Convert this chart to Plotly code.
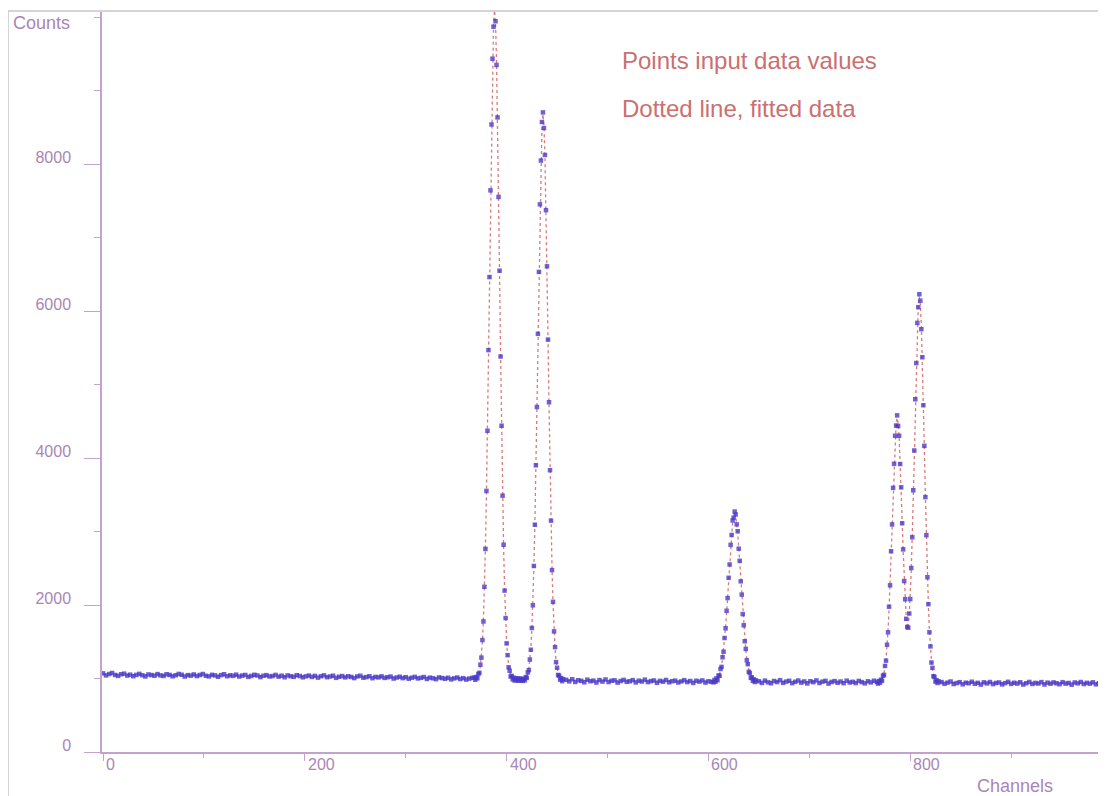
import plotly.graph_objects as go

# input data: flat parts read every 3rd channel, peaks every channel
base_a = [1070, 1042, 1061, 1075, 1048, 1036, 1058, 1066, 1040, 1052,
          1031, 1049, 1063, 1044, 1028, 1055, 1047, 1038, 1060, 1042,
          1035, 1058, 1049, 1030, 1044, 1062, 1051, 1027, 1046, 1039,
          1055, 1033, 1048, 1061, 1037, 1029, 1050, 1042, 1024, 1046,
          1058, 1031, 1043, 1036, 1052, 1027, 1040, 1048, 1022, 1035,
          1050, 1041, 1019, 1037, 1046, 1028, 1033, 1049, 1025, 1038,
          1017, 1042, 1031, 1023, 1045, 1034, 1016, 1029, 1040, 1021,
          1036, 1012, 1030, 1043, 1018, 1027, 1038, 1009, 1024, 1033,
          1015, 1030, 1021, 1006, 1028, 1037, 1011, 1019, 1031, 1004,
          1022, 1015, 1029, 1008, 1017, 1026, 999, 1013, 1024, 1005,
          1018, 997, 1011, 1022, 1001, 1009, 1020, 994, 1012, 1003,
          991, 1015, 1006, 996, 1010, 988, 1002, 1013, 993, 1005,
          986, 999, 1008]
peaks_12 = [1012, 983, 1021, 1003, 1061, 1078, 1188, 1284, 1523, 1776,
            2248, 2763, 3552, 4371, 5468, 6462, 7641, 8538, 9433, 9868,
            10130, 9942, 9347, 8634, 7552, 6548, 5381, 4439, 3487, 2820,
            2196, 1823, 1478, 1318, 1152, 1106, 1027, 1036, 987, 1011,
            972, 1004, 979, 998, 969, 1001, 977, 993, 968, 996,
            975, 1019, 1008, 1082, 1114, 1258, 1391, 1687, 1996, 2531,
            3092, 3901, 4694, 5689, 6532, 7451, 8047, 8571, 8702, 8489,
            8123, 7372, 6608, 5611, 4759, 3834, 3148, 2475, 2043, 1641,
            1427, 1223, 1146, 1048, 1039, 985, 1006, 964, 991]
base_b = [982, 961, 990, 953, 976, 968, 949, 984, 963, 971,
          945, 979, 958, 987, 952, 969, 975, 944, 966, 981,
          955, 962, 978, 947, 970, 959, 984, 951, 965, 973,
          942, 968, 957, 980, 949, 963, 971, 946, 960, 977,
          952, 966, 940, 969, 958, 974, 945, 962, 955]
peak_3 = [948, 981, 957, 1002, 976, 1041, 1037, 1129, 1158, 1289,
          1364, 1551, 1683, 1921, 2094, 2370, 2551, 2818, 2953, 3150,
          3189, 3271, 3232, 3097, 3004, 2766, 2601, 2322, 2141, 1876,
          1724, 1507, 1402, 1249, 1195, 1091, 1074, 1008, 1016, 968,
          989, 952, 975]
base_c = [962, 940, 971, 948, 935, 966, 952, 977, 941, 958,
          969, 937, 955, 972, 944, 960, 933, 963, 950, 974,
          939, 957, 968, 931, 953, 965, 942, 959, 936, 970,
          946, 955, 938, 967, 951, 934, 962, 947, 970, 953]
peaks_45 = [931, 966, 942, 983, 969, 1038, 1049, 1171, 1243, 1459,
            1628, 1977, 2268, 2731, 3096, 3594, 3921, 4303, 4441, 4580,
            4436, 4302, 3918, 3601, 3112, 2757, 2326, 2079, 1812, 1701,
            1692, 1884, 2081, 2503, 2921, 3561, 4102, 4799, 5291, 5838,
            6052, 6228, 6140, 5752, 5371, 4718, 4166, 3468, 2950, 2378,
            2011, 1629, 1437, 1218, 1145, 1031, 1021, 958, 977, 939,
            962]
base_d = [951, 928, 944, 959, 925, 938, 950, 921, 943, 935,
          956, 929, 941, 917, 948, 933, 952, 924, 939, 946,
          920, 937, 955, 927, 942, 931, 949, 918, 936, 953,
          926, 940, 932, 951, 919, 944, 929, 947, 935, 922,
          950, 931, 939, 916, 946, 934, 952, 925, 941, 930,
          948, 921, 937, 945, 928, 943, 933, 940]

# (first channel, channel step, counts)
data_segments = [(0, 3, base_a), (368, 1, peaks_12), (459, 3, base_b),
                 (605, 1, peak_3), (650, 3, base_c), (768, 1, peaks_45),
                 (831, 3, base_d)]

# fitted curve
fit_bg_a_ch = [0, 60, 120, 180, 240, 300, 366]
fit_bg_a = [1056, 1047, 1038, 1029, 1019, 1008, 996]
fit_12 = [995, 1000, 1004, 1018, 1045, 1091, 1170, 1299, 1501, 1799,
          2221, 2791, 3520, 4405, 5420, 6509, 7598, 8590, 9390, 9910,
          10090, 9910, 9390, 8590, 7598, 6509, 5420, 4405, 3520, 2791,
          2221, 1799, 1501, 1299, 1170, 1091, 1045, 1018, 1004, 995,
          990, 989, 988, 987, 986, 985, 984, 984, 983, 983,
          990, 1002, 1024, 1063, 1130, 1240, 1410, 1663, 2020, 2502,
          3119, 3868, 4726, 5648, 6569, 7410, 8086, 8526, 8678, 8526,
          8086, 7410, 6569, 5648, 4726, 3868, 3119, 2502, 2020, 1663,
          1410, 1240, 1130, 1063, 1024, 1002, 990, 982, 977]
fit_bg_b_ch = [459, 500, 550, 603]
fit_bg_b = [976, 968, 962, 960]
fit_3 = [963, 967, 973, 983, 999, 1023, 1059, 1108, 1177, 1268,
         1385, 1529, 1702, 1899, 2117, 2347, 2576, 2792, 2979, 3124,
         3216, 3248, 3216, 3124, 2979, 2792, 2576, 2347, 2117, 1899,
         1702, 1529, 1385, 1268, 1177, 1108, 1059, 1023, 999, 983,
         973, 967, 963]
fit_bg_c_ch = [650, 700, 767]
fit_bg_c = [960, 953, 947]
fit_45 = [948, 950, 956, 967, 985, 1016, 1067, 1147, 1265, 1432,
          1657, 1946, 2296, 2697, 3128, 3559, 3952, 4268, 4474, 4545,
          4475, 4270, 3956, 3567, 3144, 2728, 2354, 2050, 1836, 1727,
          1732, 1857, 2106, 2476, 2955, 3523, 4140, 4762, 5333, 5792,
          6091, 6195, 6091, 5791, 5330, 4757, 4129, 3501, 2915, 2405,
          1984, 1655, 1412, 1240, 1124, 1049, 1003, 976, 961, 953,
          949]
fit_bg_d_ch = [831, 900, 1002]
fit_bg_d = [946, 941, 936]

y_tickvals = [0, 2000, 4000, 6000, 8000]
y_ticktext = ['0', '2000', '4000', '6000', '8000']
y_minor = [1000, 3000, 5000, 7000, 9000, 10000]
x_tickvals = [0, 200, 400, 600, 800]
x_ticktext = ['0', '200', '400', '600', '800']
x_minor = [100, 300, 500, 700, 900]

AXIS = '#c3a2cb'
LABEL = '#a986b5'
RED = '#c97070'
FAM = 'Liberation Sans Narrow, Liberation Sans, Arial'
TICKFONT = dict(family=FAM, size=16, color=LABEL)

data_x, data_y = [], []
for start, step, vals in data_segments:
    data_x += [start + step * i for i in range(len(vals))]
    data_y += vals


def per_channel(start, vals):
    return [start + i for i in range(len(vals))]


fit_x = (fit_bg_a_ch + per_channel(368, fit_12) + fit_bg_b_ch + per_channel(605, fit_3)
         + fit_bg_c_ch + per_channel(768, fit_45) + fit_bg_d_ch)
fit_y = fit_bg_a + fit_12 + fit_bg_b + fit_3 + fit_bg_c + fit_45 + fit_bg_d

fig = go.Figure()
fig.add_trace(go.Scatter(x=fit_x, y=fit_y, mode='lines',
                         line=dict(color='#d97a7a', width=1.3, dash='dot'),
                         name='fitted', showlegend=False))
fig.add_trace(go.Scatter(x=data_x, y=data_y, mode='markers',
                         marker=dict(symbol='square', size=4.5, color='rgba(72,58,200,0.8)'),
                         name='input', showlegend=False))

fig.update_xaxes(range=[-1, 994], showgrid=False, zeroline=False, automargin=False,
                 showline=True, linecolor=AXIS, linewidth=1.5,
                 tickmode='array', tickvals=x_tickvals, ticks='outside', ticklen=7,
                 tickcolor=AXIS, tickwidth=1, showticklabels=False,
                 minor=dict(tickmode='array', tickvals=x_minor, ticks='outside',
                            ticklen=4, tickcolor=AXIS))
fig.update_yaxes(range=[0, 10068], showgrid=False, zeroline=False, automargin=False,
                 showline=True, linecolor=AXIS, linewidth=1.5,
                 tickmode='array', tickvals=y_tickvals, ticktext=y_ticktext,
                 ticks='outside', ticklen=16, tickcolor=AXIS, tickwidth=1.3,
                 tickfont=TICKFONT, ticklabelstandoff=10, ticklabelshift=-7,
                 minor=dict(tickmode='array', tickvals=y_minor, ticks='outside',
                            ticklen=6, tickcolor=AXIS))

# x tick labels sit just right of their tick marks
for v, t in zip(x_tickvals, x_ticktext):
    fig.add_annotation(text=t, x=v, xref='x', y=0, yref='y', xanchor='left',
                       yanchor='top', xshift=1, yshift=-2, showarrow=False,
                       font=TICKFONT)

txt = dict(family='Liberation Sans, Arial', size=24, color=RED)
fig.add_annotation(text='Points input data values', xref='paper', yref='paper',
                   x=0.516, y=0.935, xanchor='left', yanchor='middle',
                   showarrow=False, font=txt)
fig.add_annotation(text='Dotted line, fitted data', xref='paper', yref='paper',
                   x=0.516, y=0.870, xanchor='left', yanchor='middle',
                   showarrow=False, font=txt)
fig.add_annotation(text='Counts', xref='paper', yref='paper',
                   x=-0.0299, y=0.985, xanchor='right', yanchor='middle',
                   showarrow=False,
                   font=dict(family='Liberation Sans, Arial', size=18, color=LABEL))
fig.add_annotation(text='Channels', xref='paper', yref='paper',
                   x=0.8695, y=-0.046, xanchor='left', yanchor='middle',
                   showarrow=False,
                   font=dict(family='Liberation Sans, Arial', size=18, color=LABEL))

# light frame of the scanned page
fig.add_shape(type='rect', xref='paper', yref='paper',
              x0=-0.0936, x1=1.2, y0=-0.3, y1=1.0014,
              line=dict(color='#c8c8c8', width=1.5))

# the page body adds 8 px on the left and top, so the figure is 8 px smaller
fig.update_layout(width=1098, height=788, plot_bgcolor='white', paper_bgcolor='white',
                  margin=dict(l=94, r=0, t=4, b=44), showlegend=False)

fig.write_html('out.html', config={'displayModeBar': False})
